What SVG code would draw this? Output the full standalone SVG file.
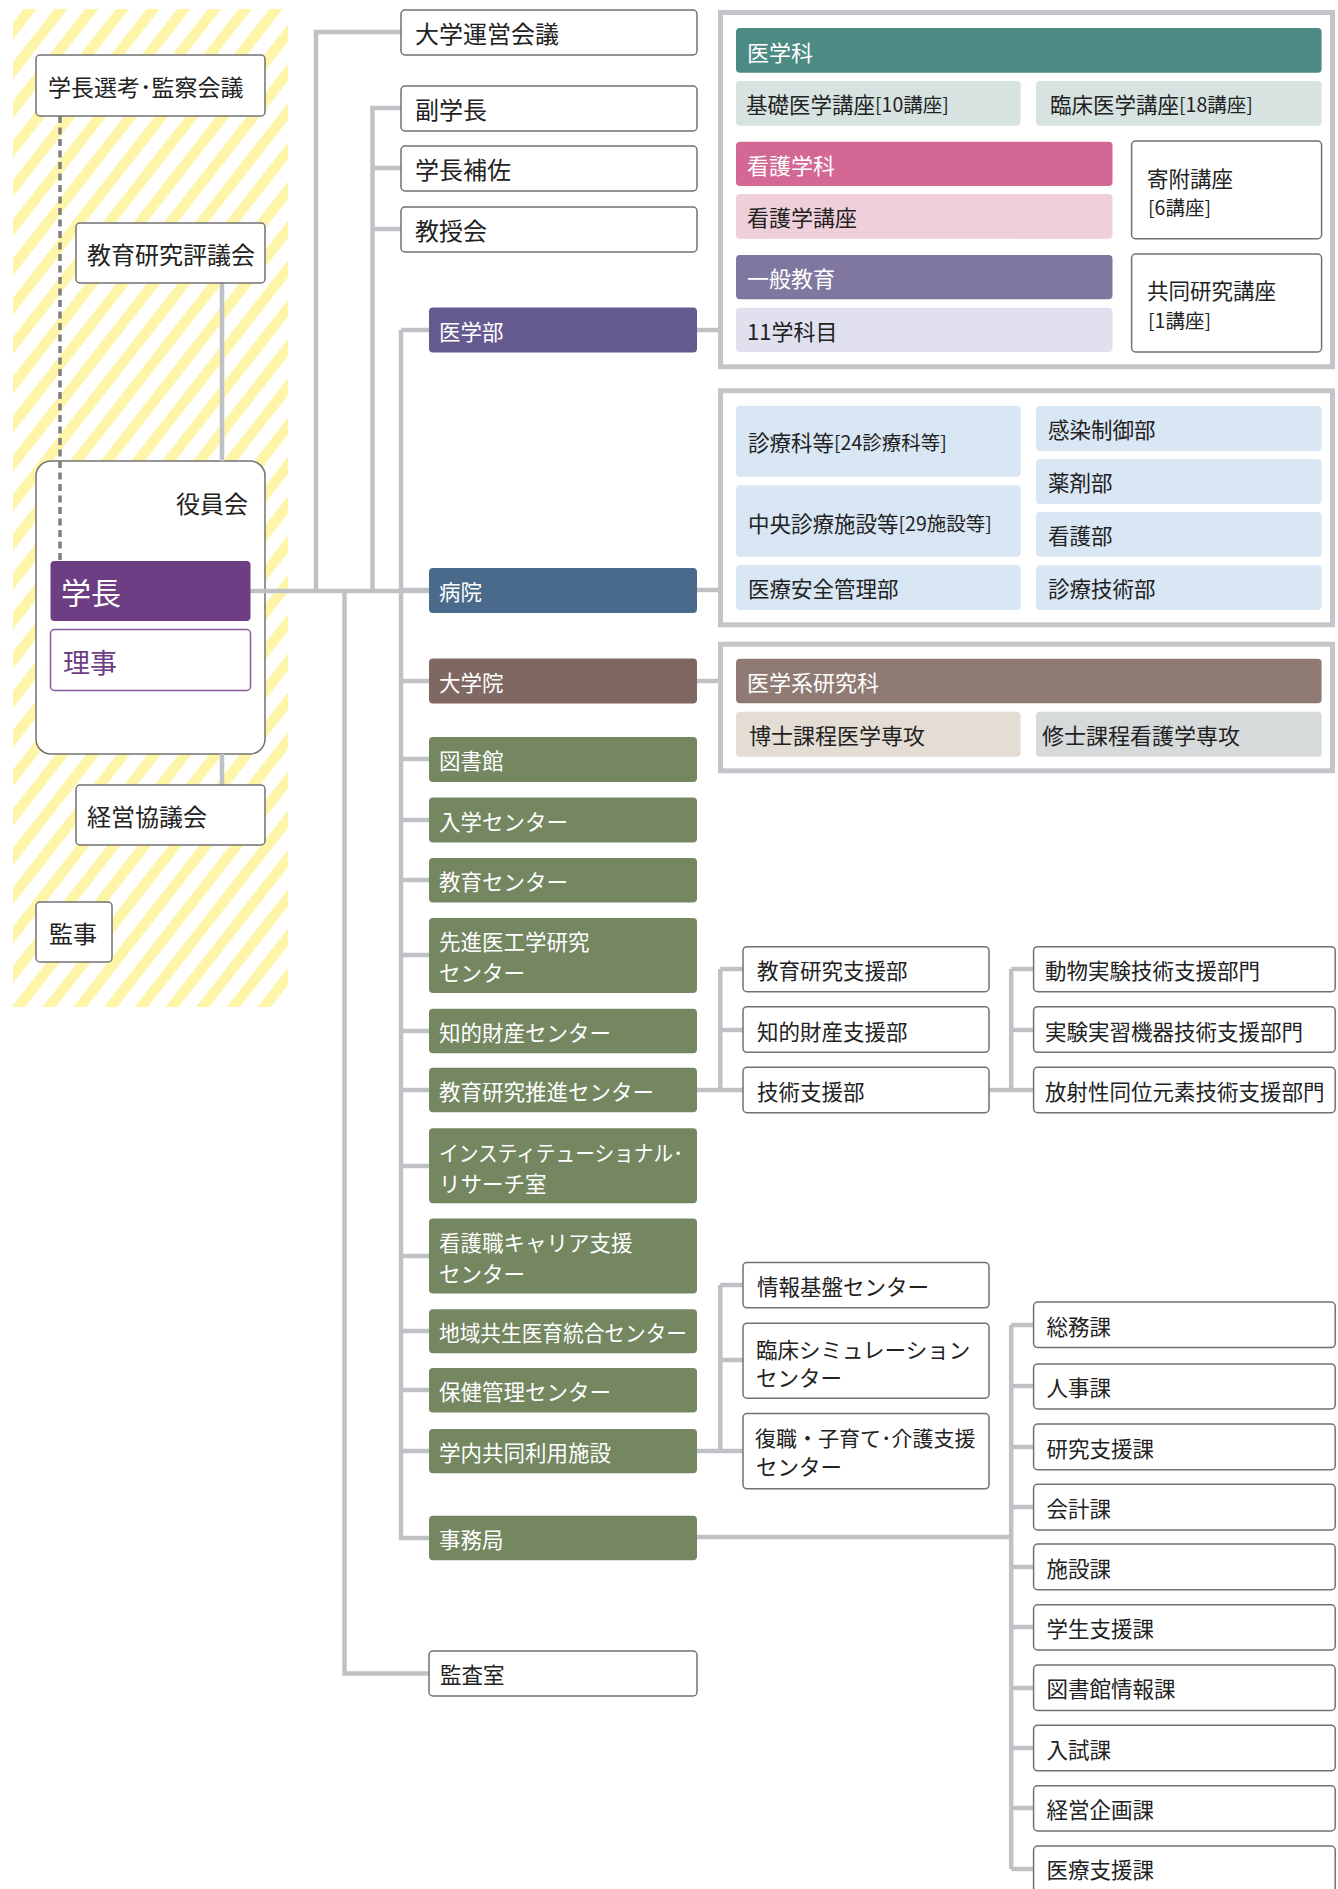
<svg xmlns="http://www.w3.org/2000/svg" width="1338" height="1889" viewBox="0 0 1338 1889">
<defs>
<pattern id="stripes" patternUnits="userSpaceOnUse" width="24.2" height="24.2" patternTransform="rotate(38)">
<rect width="24.2" height="24.2" fill="#ffffff"/>
<rect width="10.5" height="24.2" fill="#fff5a8"/>
</pattern>
<style>
text{font-family:"Noto Sans CJK JP","Noto Sans",sans-serif;fill:#222;dominant-baseline:central}
.box{fill:#fff;stroke:#727272;stroke-width:1.5}
.w{fill:#fff}
.s24{font-size:24px}
.s22{font-size:22px}
.s21{font-size:21.5px}
.br{font-size:19.5px}
.conn{stroke:#c0c1c5;stroke-width:4.5;fill:none}
.panel{fill:#fff;stroke:#c4c5c8;stroke-width:5}
.green{fill:#748761}
</style>
</defs>
<rect width="1338" height="1889" fill="#fff"/>
<rect id="stripe-band" x="13" y="9" width="275" height="998" fill="url(#stripes)"/>

<g id="yakuinkai">
<rect class="box" x="36" y="461" width="229" height="293" rx="15"/>
<text class="s24" x="248" y="502" text-anchor="end">役員会</text>
</g>

<g id="connectors">
<line x1="60" y1="116" x2="60" y2="561" stroke="#7f7f7f" stroke-width="3.5" stroke-dasharray="7 4.5"/>
<path class="conn" d="M222,283V461M222,754V785"/>
<path class="conn" d="M250,591H429"/>
<path class="conn" d="M316,591V32H401"/>
<path class="conn" d="M372.5,591V108H401M372.5,168H401M372.5,229H401"/>
<path class="conn" d="M401,330V1538H429M401,330H429M401,590H429M401,681H429M401,759H429M401,820H429M401,880H429M401,955H429M401,1031H429M401,1090H429M401,1166H429M401,1256H429M401,1331H429M401,1390H429M401,1451H429"/>
<path class="conn" d="M344.5,591V1673.5H429"/>
<path class="conn" d="M697,330H718M697,590H718M697,681H718"/>
<path class="conn" d="M697,1090H743M720.3,969V1090M720.3,969H743M720.3,1030H743"/>
<path class="conn" d="M989,1090H1033.6M1011.2,969V1090M1011.2,969H1033.6M1011.2,1030H1033.6"/>
<path class="conn" d="M697,1451H743M720.3,1285V1451M720.3,1285H743M720.3,1360H743"/>
<path class="conn" d="M697,1537H1011.2M1011.2,1325V1869M1011.2,1325H1033.6M1011.2,1386H1033.6M1011.2,1447H1033.6M1011.2,1507H1033.6M1011.2,1567H1033.6M1011.2,1627H1033.6M1011.2,1688H1033.6M1011.2,1748H1033.6M1011.2,1808H1033.6M1011.2,1869H1033.6"/>
</g>

<g id="gakucho-senko">
<rect class="box" x="36" y="55" width="229" height="61" rx="4"/>
<text x="48" y="86" font-size="23">学長選考･監察会議</text>
</g>
<g id="kyoiku-hyogikai">
<rect class="box" x="76" y="223" width="189" height="60" rx="4"/>
<text class="s24" x="87" y="253">教育研究評議会</text>
</g>
<g id="gakucho">
<rect x="50.5" y="561" width="200" height="60" rx="4" fill="#6e3e84"/>
<text class="w" x="61" y="591" font-size="30">学長</text>
</g>
<g id="riji">
<rect x="50.5" y="629.5" width="200" height="61" rx="4" fill="#fff" stroke="#8a5a9e" stroke-width="1.5"/>
<text x="63" y="661" font-size="27" style="fill:#6e3e84">理事</text>
</g>
<g id="keiei-kyogikai">
<rect class="box" x="76" y="785" width="189" height="60" rx="4"/>
<text class="s24" x="87" y="815">経営協議会</text>
</g>
<g id="kanji">
<rect class="box" x="36" y="902" width="76" height="60" rx="4"/>
<text class="s24" x="49" y="932">監事</text>
</g>

<g id="daigaku-uneikaigi">
<rect class="box" x="401" y="10" width="296" height="45" rx="4"/>
<text class="s24" x="415" y="32">大学運営会議</text>
</g>
<g id="fukugakucho">
<rect class="box" x="401" y="86" width="296" height="45" rx="4"/>
<text class="s24" x="415" y="108">副学長</text>
</g>
<g id="gakucho-hosa">
<rect class="box" x="401" y="146" width="296" height="45" rx="4"/>
<text class="s24" x="415" y="168">学長補佐</text>
</g>
<g id="kyojukai">
<rect class="box" x="401" y="207" width="296" height="45" rx="4"/>
<text class="s24" x="415" y="229">教授会</text>
</g>

<g id="igakubu">
<rect x="429" y="307.5" width="268" height="45" rx="4" fill="#655a90"/>
<text class="s21 w" x="439" y="330">医学部</text>
</g>
<g id="byoin">
<rect x="429" y="568" width="268" height="45" rx="4" fill="#4a6a8c"/>
<text class="s21 w" x="439" y="590">病院</text>
</g>
<g id="daigakuin">
<rect x="429" y="658.5" width="268" height="45" rx="4" fill="#7f6862"/>
<text class="s21 w" x="439" y="681">大学院</text>
</g>
<g id="toshokan">
<rect class="green" x="429" y="737" width="268" height="45" rx="4"/>
<text class="s21 w" x="439" y="759">図書館</text>
</g>
<g id="nyugaku-center">
<rect class="green" x="429" y="797.5" width="268" height="45" rx="4"/>
<text class="s21 w" x="439" y="820">入学センター</text>
</g>
<g id="kyoiku-center">
<rect class="green" x="429" y="858" width="268" height="44.5" rx="4"/>
<text class="s21 w" x="439" y="880">教育センター</text>
</g>
<g id="senshin-center">
<rect class="green" x="429" y="918" width="268" height="75" rx="4"/>
<text class="s21 w" x="439" y="940">先進医工学研究</text>
<text class="s21 w" x="439" y="971">センター</text>
</g>
<g id="chiteki-center">
<rect class="green" x="429" y="1008.7" width="268" height="44.6" rx="4"/>
<text class="s21 w" x="439" y="1031">知的財産センター</text>
</g>
<g id="suishin-center">
<rect class="green" x="429" y="1067.8" width="268" height="44.5" rx="4"/>
<text class="s21 w" x="439" y="1090">教育研究推進センター</text>
</g>
<g id="ir-shitsu">
<rect class="green" x="429" y="1128.3" width="268" height="75" rx="4"/>
<text class="s21 w" x="439" y="1151" textLength="244" lengthAdjust="spacingAndGlyphs">インスティテューショナル･</text>
<text class="s21 w" x="439" y="1182">リサーチ室</text>
</g>
<g id="kango-career">
<rect class="green" x="429" y="1218.5" width="268" height="75" rx="4"/>
<text class="s21 w" x="439" y="1241">看護職キャリア支援</text>
<text class="s21 w" x="439" y="1272">センター</text>
</g>
<g id="chiiki-center">
<rect class="green" x="429" y="1309.3" width="268" height="44" rx="4"/>
<text class="s21 w" x="439" y="1331" textLength="248" lengthAdjust="spacingAndGlyphs">地域共生医育統合センター</text>
</g>
<g id="hoken-center">
<rect class="green" x="429" y="1368" width="268" height="44.5" rx="4"/>
<text class="s21 w" x="439" y="1390">保健管理センター</text>
</g>
<g id="gakunai-shisetsu">
<rect class="green" x="429" y="1429" width="268" height="44.3" rx="4"/>
<text class="s21 w" x="439" y="1451">学内共同利用施設</text>
</g>
<g id="jimukyoku">
<rect class="green" x="429" y="1515.7" width="268" height="44.5" rx="4"/>
<text class="s21 w" x="439" y="1538">事務局</text>
</g>
<g id="kansashitsu">
<rect class="box" x="429" y="1651" width="268" height="45" rx="4"/>
<text class="s21" x="440" y="1673.5">監査室</text>
</g>

<g id="panel-igakubu">
<rect class="panel" x="720.5" y="12.5" width="612" height="354.3"/>
<rect x="736" y="28" width="585.6" height="44.7" rx="4" fill="#4c8a84"/>
<text class="s22 w" x="747" y="50.5">医学科</text>
<rect x="736" y="81" width="284.6" height="44.7" rx="4" fill="#d6e3e0"/>
<text class="s21" x="746" y="103">基礎医学講座<tspan class="br">[10講座]</tspan></text>
<rect x="1036" y="81" width="285.6" height="44.7" rx="4" fill="#d6e3e0"/>
<text class="s21" x="1050" y="103">臨床医学講座<tspan class="br">[18講座]</tspan></text>
<rect x="736" y="141.7" width="376.5" height="44.3" rx="4" fill="#d26893"/>
<text class="s22 w" x="747" y="164">看護学科</text>
<rect x="736" y="194" width="376.5" height="44.7" rx="4" fill="#efd0da"/>
<text class="s22" x="747" y="216">看護学講座</text>
<rect x="736" y="255" width="376.5" height="44.3" rx="4" fill="#7f77a0"/>
<text class="s22 w" x="747" y="277">一般教育</text>
<rect x="736" y="307.7" width="376.5" height="44.3" rx="4" fill="#e1e0ee"/>
<text class="s22" x="747" y="330">11学科目</text>
<rect class="box" x="1131.6" y="141" width="190" height="97.7" rx="4"/>
<text class="s21" x="1147" y="177">寄附講座</text>
<text class="br" x="1148" y="206">[6講座]</text>
<rect class="box" x="1131.6" y="254" width="190" height="98" rx="4"/>
<text class="s21" x="1147" y="289">共同研究講座</text>
<text class="br" x="1148" y="319">[1講座]</text>
</g>

<g id="panel-byoin">
<rect class="panel" x="720.5" y="390.8" width="612" height="234"/>
<rect x="736" y="405.7" width="284.6" height="71" rx="4" fill="#d9e6f3"/>
<text class="s21" x="748" y="441">診療科等<tspan class="br">[24診療科等]</tspan></text>
<rect x="736" y="485.3" width="284.6" height="71.4" rx="4" fill="#d9e6f3"/>
<text class="s21" x="748" y="522">中央診療施設等<tspan class="br">[29施設等]</tspan></text>
<rect x="736" y="565" width="284.6" height="45" rx="4" fill="#d9e6f3"/>
<text class="s21" x="748" y="587.5">医療安全管理部</text>
<rect x="1036" y="406" width="285.6" height="45" rx="4" fill="#d9e6f3"/>
<text class="s21" x="1048" y="428.5">感染制御部</text>
<rect x="1036" y="459" width="285.6" height="45" rx="4" fill="#d9e6f3"/>
<text class="s21" x="1048" y="481.5">薬剤部</text>
<rect x="1036" y="512" width="285.6" height="44.7" rx="4" fill="#d9e6f3"/>
<text class="s21" x="1048" y="534.3">看護部</text>
<rect x="1036" y="565.3" width="285.6" height="44.7" rx="4" fill="#d9e6f3"/>
<text class="s21" x="1048" y="587.5">診療技術部</text>
</g>

<g id="panel-daigakuin">
<rect class="panel" x="720.5" y="644.2" width="612" height="126.6"/>
<rect x="736" y="658.7" width="585.6" height="44.6" rx="4" fill="#8f7b74"/>
<text class="s22 w" x="747" y="681">医学系研究科</text>
<rect x="736" y="711.7" width="284.6" height="45" rx="4" fill="#e4ddd4"/>
<text class="s22" x="749" y="734">博士課程医学専攻</text>
<rect x="1036" y="711.7" width="285.6" height="45" rx="4" fill="#d7dada"/>
<text class="s22" x="1042" y="734">修士課程看護学専攻</text>
</g>

<g id="kyoiku-shienbu">
<rect class="box" x="743" y="946.7" width="246" height="45" rx="4"/>
<text class="s21" x="757" y="969">教育研究支援部</text>
</g>
<g id="chiteki-shienbu">
<rect class="box" x="743" y="1006.7" width="246" height="45.6" rx="4"/>
<text class="s21" x="757" y="1030">知的財産支援部</text>
</g>
<g id="gijutsu-shienbu">
<rect class="box" x="743" y="1067.3" width="246" height="45.4" rx="4"/>
<text class="s21" x="757" y="1090">技術支援部</text>
</g>
<g id="dobutsu">
<rect class="box" x="1033.6" y="946.7" width="301.6" height="45" rx="4"/>
<text class="s21" x="1045" y="969">動物実験技術支援部門</text>
</g>
<g id="jikken">
<rect class="box" x="1033.6" y="1006.7" width="301.6" height="45.6" rx="4"/>
<text class="s21" x="1045" y="1030">実験実習機器技術支援部門</text>
</g>
<g id="hoshasei">
<rect class="box" x="1033.6" y="1067.3" width="301.6" height="45.4" rx="4"/>
<text class="s21" x="1045" y="1090">放射性同位元素技術支援部門</text>
</g>

<g id="joho-center">
<rect class="box" x="743" y="1262.5" width="246" height="45.3" rx="4"/>
<text class="s21" x="757" y="1285">情報基盤センター</text>
</g>
<g id="rinsho-sim">
<rect class="box" x="743" y="1323.2" width="246" height="75" rx="4"/>
<text class="s21" x="756" y="1348.5">臨床シミュレーション</text>
<text class="s21" x="756" y="1376">センター</text>
</g>
<g id="fukushoku">
<rect class="box" x="743" y="1413.5" width="246" height="75.3" rx="4"/>
<text x="755" y="1437" font-size="21">復職・子育て･介護支援</text>
<text class="s21" x="756" y="1465.5">センター</text>
</g>

<g id="soumu"><rect class="box" x="1033.6" y="1302" width="301.6" height="45.6" rx="4"/><text class="s21" x="1046.6" y="1325">総務課</text></g>
<g id="jinji"><rect class="box" x="1033.6" y="1363.9" width="301.6" height="45" rx="4"/><text class="s21" x="1046.6" y="1386.3">人事課</text></g>
<g id="kenkyu-shien"><rect class="box" x="1033.6" y="1424.1" width="301.6" height="45.6" rx="4"/><text class="s21" x="1046.6" y="1447">研究支援課</text></g>
<g id="kaikei"><rect class="box" x="1033.6" y="1484.3" width="301.6" height="45.6" rx="4"/><text class="s21" x="1046.6" y="1507">会計課</text></g>
<g id="shisetsu"><rect class="box" x="1033.6" y="1544.1" width="301.6" height="45.6" rx="4"/><text class="s21" x="1046.6" y="1567">施設課</text></g>
<g id="gakusei-shien"><rect class="box" x="1033.6" y="1604.8" width="301.6" height="45.1" rx="4"/><text class="s21" x="1046.6" y="1627.3">学生支援課</text></g>
<g id="toshokan-joho"><rect class="box" x="1033.6" y="1665" width="301.6" height="45.5" rx="4"/><text class="s21" x="1046.6" y="1687.8">図書館情報課</text></g>
<g id="nyushi"><rect class="box" x="1033.6" y="1725.2" width="301.6" height="45.6" rx="4"/><text class="s21" x="1046.6" y="1748">入試課</text></g>
<g id="keiei-kikaku"><rect class="box" x="1033.6" y="1785.8" width="301.6" height="45.2" rx="4"/><text class="s21" x="1046.6" y="1808.4">経営企画課</text></g>
<g id="iryo-shien"><rect class="box" x="1033.6" y="1846" width="301.6" height="46" rx="4"/><text class="s21" x="1046.6" y="1868.6">医療支援課</text></g>
</svg>
